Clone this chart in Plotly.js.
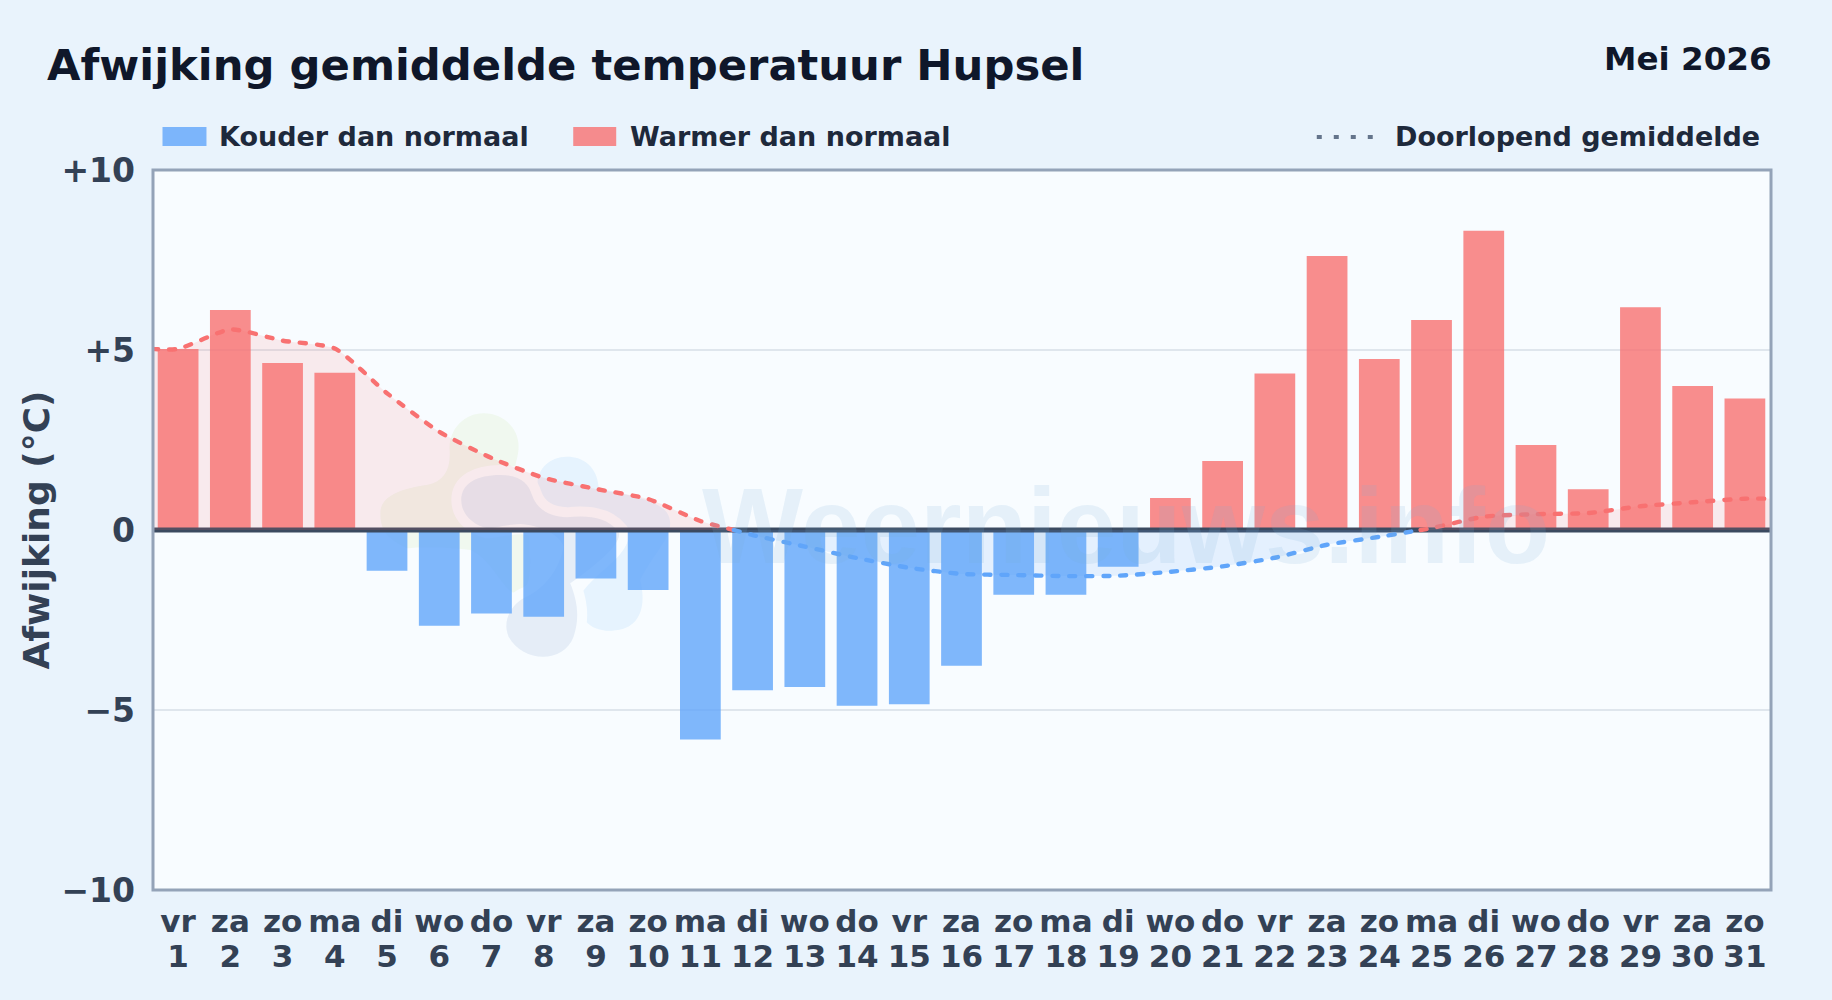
<!DOCTYPE html>
<html>
<head>
<meta charset="utf-8">
<script src="https://cdn.plot.ly/plotly-3.0.1.min.js"></script>
<style>
html,body{margin:0;padding:0;background:#e9f3fc;}
#chart{width:1832px;height:1000px;}
.scatterlayer .js-line{stroke-linecap:round;}
</style>
</head>
<body>
<div id="chart"></div>
<script>
const days = [1,2,3,4,5,6,7,8,9,10,11,12,13,14,15,16,17,18,19,20,21,22,23,24,25,26,27,28,29,30,31];
const weekdays = ['vr','za','zo','ma','di','wo','do','vr','za','zo','ma','di','wo','do','vr','za','zo','ma','di','wo','do','vr','za','zo','ma','di','wo','do','vr','za','zo'];
const anomalies = [5.03,6.11,4.64,4.37,-1.13,-2.66,-2.32,-2.41,-1.35,-1.67,-5.82,-4.45,-4.36,-4.88,-4.84,-3.77,-1.80,-1.80,-1.02,0.89,1.92,4.35,7.61,4.75,5.83,8.31,2.36,1.13,6.19,4.00,3.65];
const warmStartX = [0.5,1,2,3,4,5,6,7,8,9,10,11,11.64];
const warmStartY = [5.03,5.03,5.57,5.26,5.04,3.80,2.73,2.00,1.45,1.14,0.86,0.25,0];
const coolX = [11.64,12,13,14,15,16,17,18,19,20,21,22,23,24,24.79];
const coolY = [0,-0.14,-0.46,-0.78,-1.05,-1.22,-1.25,-1.28,-1.27,-1.16,-1.01,-0.77,-0.41,-0.19,0];
const warmEndX = [24.79,25,26,27,28,29,30,31,31.5];
const warmEndY = [0,0.05,0.37,0.44,0.47,0.66,0.77,0.87,0.87];
const yTickVals = [-10,-5,0,5,10];
const yTickText = ['\u221210','\u22125','0','+5','+10'];
const titleText = 'Afwijking gemiddelde temperatuur Hupsel';
const periodText = 'Mei 2026';
const watermarkText = 'Weernieuws.info';
const legendNames = ['Kouder dan normaal','Warmer dan normaal','Doorlopend gemiddelde'];

const RED='rgba(248,113,113,0.8)', BLUE='rgba(96,165,250,0.8)';
const W=1832,H=1000,L=151.5,R=1771.5,T=170,B=890;
const px=v=>(v-L)/(R-L), py=v=>(B-v)/(B-T);
const FONT='DejaVu Sans';

function avg(x,y,c,fillc,name){
  return {type:'scatter',mode:'lines',x:x,y:y,xaxis:'x2',name:name,hoverinfo:'skip',showlegend:false,
    line:{color:c,width:4.4,dash:'6px,11px',shape:'spline',smoothing:0.6},
    fill:'tozeroy',fillcolor:fillc};
}
const traces=[
 {type:'bar',x:days,y:anomalies,name:'Afwijking',showlegend:false,width:0.78,
  marker:{color:anomalies.map(v=>v<0?BLUE:RED),line:{width:0}}},
 {type:'scatter',mode:'lines',x:[0.5,31.5],y:[0,0],xaxis:'x2',showlegend:false,hoverinfo:'skip',line:{color:'#3b4a60',width:4.8}},
 avg(warmStartX,warmStartY,'#f87171','rgba(248,113,113,0.13)',legendNames[2]),
 avg(coolX,coolY,'#60a5fa','rgba(96,165,250,0.13)',legendNames[2]),
 avg(warmEndX,warmEndY,'#f87171','rgba(248,113,113,0.13)',legendNames[2])
];
const ann=(text,x,y,size,color,anchor,extra)=>Object.assign({text:text,xref:'paper',yref:'paper',x:px(x),y:py(y),
  xanchor:anchor,yanchor:'middle',showarrow:false,font:{family:FONT,size:size,color:color,weight:700}},extra||{});
// logo outlines, given in page pixels relative to the logo's corner (360,400), 3 units per pixel
const logoPath=d=>d.replace(/(-?\d+(?:\.\d+)?),(-?\d+(?:\.\d+)?)/g,(m,a,b)=>px(360+a/3).toFixed(5)+','+py(400+b/3).toFixed(5));
const blobGreen='M 60,340 C 60,285 130,265 200,255 C 250,245 272,210 268,150 C 265,90 310,40 370,40 C 430,40 475,85 475,140 C 475,190 440,215 500,260 C 520,350 500,400 510,480 C 510,540 500,580 470,580 C 430,580 400,480 330,450 C 250,440 180,440 140,445 C 90,420 60,400 60,340 Z';
const blobDark='M 303,300 C 303,250 350,225 420,225 C 480,225 505,250 515,285 C 530,330 570,350 620,352 C 680,345 740,350 775,395 C 790,430 700,500 630,550 C 650,600 660,650 640,710 C 610,790 490,790 445,710 C 420,650 470,600 500,590 C 560,560 600,500 610,440 C 600,400 530,375 480,372 C 430,375 400,385 380,385 C 340,375 303,345 303,300 Z';
const blobLight='M 532,250 C 532,205 570,170 620,170 C 670,170 710,200 715,260 C 780,290 930,290 930,370 C 930,420 880,460 840,540 C 860,620 840,690 755,692 C 680,695 650,640 655,600 C 660,560 760,500 770,440 C 770,390 720,350 640,352 C 570,352 532,300 532,250 Z';
const blob=(d,fill,line)=>({type:'path',xref:'paper',yref:'paper',layer:'below',path:logoPath(d),fillcolor:fill,line:line||{width:0}});
const layout={
 width:W,height:H,
 paper_bgcolor:'#e9f3fc',plot_bgcolor:'#f8fcff',
 margin:{l:L,r:W-R,t:T,b:H-B,pad:0},
 font:{family:FONT},
 showlegend:false,bargap:0.22,
 title:{text:titleText,xref:'container',yref:'container',x:47/W,y:1-65/H,xanchor:'left',yanchor:'middle',
        font:{family:FONT,size:43.3,color:'#0f172a',weight:700}},
 xaxis:{range:[0.5,31.5],tickmode:'array',tickvals:days,ticktext:weekdays,
   showgrid:false,zeroline:false,showline:false,ticks:'',
   tickfont:{family:FONT,size:31,color:'#334155',weight:700},ticklabelstandoff:10,automargin:false},
 xaxis2:{range:[0.5,31.5],overlaying:'x',anchor:'y',side:'bottom',tickmode:'array',tickvals:days,ticktext:days.map(String),
   showgrid:false,zeroline:false,showline:false,ticks:'',
   tickfont:{family:FONT,size:31,color:'#334155',weight:700},ticklabelstandoff:45,automargin:false},
 yaxis:{range:[-10,10],tickmode:'array',tickvals:yTickVals,ticktext:yTickText,
   showgrid:true,gridcolor:'rgba(148,163,184,0.25)',gridwidth:2,zeroline:false,showline:false,ticks:'',
   tickfont:{family:FONT,size:33,color:'#334155',weight:700},ticklabelstandoff:16,automargin:false,
   title:{text:'Afwijking (°C)',font:{family:FONT,size:36,color:'#334155',weight:700},standoff:0}},
 shapes:[
  blob(blobGreen,'rgba(190,225,140,0.14)'),
  blob(blobLight,'rgba(120,190,245,0.14)'),
  blob(blobDark,'#f8fcff',{color:'#f8fcff',width:20}),
  blob(blobDark,'rgba(110,150,195,0.14)'),
  {type:'rect',xref:'paper',yref:'paper',x0:px(152.5),x1:px(1771.5),y0:py(890),y1:py(170),line:{color:'#94a3b8',width:3},layer:'above'},
  {type:'rect',xref:'paper',yref:'paper',x0:px(162),x1:px(206),y0:py(127),y1:py(146),fillcolor:BLUE,line:{width:0}},
  {type:'rect',xref:'paper',yref:'paper',x0:px(573),x1:px(616),y0:py(127),y1:py(146),fillcolor:RED,line:{width:0}},
  {type:'line',xref:'paper',yref:'paper',x0:px(1317),x1:px(1373),y0:py(137),y1:py(137),line:{color:'#64748b',width:4,dash:'5px,12px'}}
 ],
 annotations:[
  ann(watermarkText,700,526,107,'rgba(121,172,215,0.15)','left',{font:{family:'Liberation Sans',size:107,color:'rgba(121,172,215,0.15)',weight:700}}),
  ann(periodText,1774.5,59,32.6,'#0f172a','right'),
  ann(legendNames[0],216.5,137,27,'#1e293b','left'),
  ann(legendNames[1],627.5,137,27,'#1e293b','left'),
  ann(legendNames[2],1393,137,27,'#1e293b','left')
 ]
};
Plotly.newPlot('chart',traces,layout,{displayModeBar:false,staticPlot:true});
</script>
</body>
</html>
